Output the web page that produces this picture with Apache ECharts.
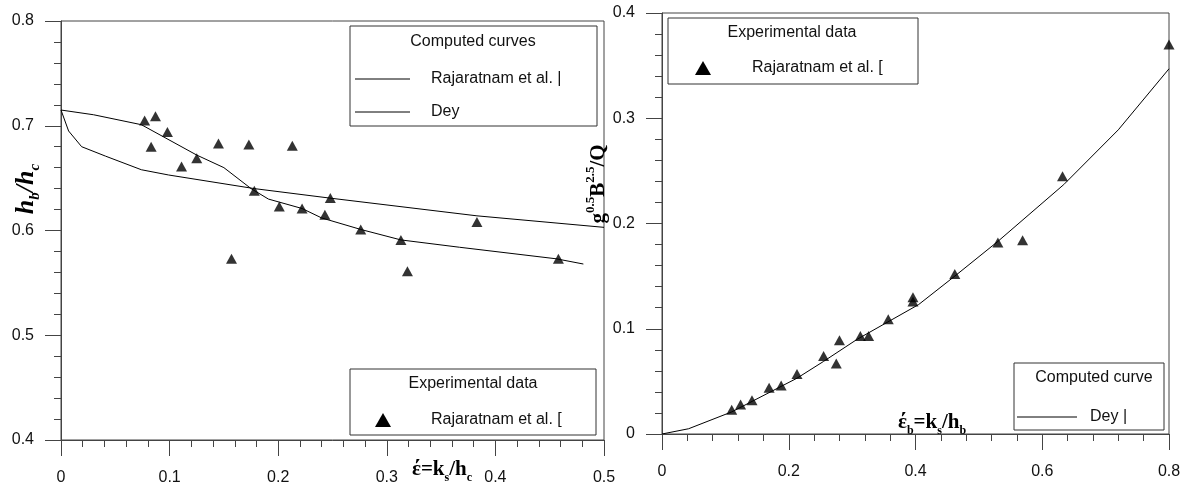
<!DOCTYPE html>
<html>
<head>
<meta charset="utf-8">
<script src="https://cdn.jsdelivr.net/npm/echarts@6/dist/echarts.min.js"></script>
<style>
  html, body { margin: 0; background: #fff; }
  #chart { width: 1189px; height: 486px; }
</style>
</head>
<body>
<div id="chart"></div>
<script>
// left plot: h_b/h_c against ks/hc
const leftExpX = [0.077, 0.087, 0.083, 0.098, 0.111, 0.125, 0.145, 0.157, 0.173, 0.178, 0.201, 0.213, 0.222, 0.243, 0.248, 0.276, 0.313, 0.319, 0.383, 0.458]
const leftExpY = [0.705, 0.709, 0.680, 0.694, 0.661, 0.669, 0.683, 0.573, 0.682, 0.638, 0.623, 0.681, 0.621, 0.615, 0.631, 0.601, 0.591, 0.561, 0.608, 0.573]
const rajX = [0, 0.030, 0.074, 0.125, 0.150, 0.175, 0.191, 0.222, 0.240, 0.276, 0.313, 0.367, 0.456, 0.481]
const rajY = [0.715, 0.7105, 0.701, 0.672, 0.660, 0.640, 0.630, 0.621, 0.612, 0.601, 0.591, 0.584, 0.573, 0.568]
const deyLeftX = [0, 0.007, 0.019, 0.041, 0.074, 0.099, 0.178, 0.247, 0.383, 0.5]
const deyLeftY = [0.715, 0.695, 0.680, 0.671, 0.658, 0.653, 0.640, 0.631, 0.614, 0.603]

// right plot: g^0.5 B^2.5 / Q against ks/hb
const rightExpX = [0.110, 0.124, 0.142, 0.169, 0.188, 0.213, 0.255, 0.275, 0.280, 0.313, 0.326, 0.357, 0.396, 0.396, 0.462, 0.530, 0.569, 0.632, 0.800]
const rightExpY = [0.023, 0.028, 0.032, 0.044, 0.046, 0.057, 0.074, 0.067, 0.089, 0.093, 0.093, 0.109, 0.126, 0.130, 0.152, 0.182, 0.184, 0.245, 0.370]
const deyRightX = [0, 0.042, 0.110, 0.213, 0.255, 0.308, 0.405, 0.462, 0.530, 0.634, 0.720, 0.800]
const deyRightY = [0, 0.005, 0.021, 0.053, 0.069, 0.090, 0.123, 0.150, 0.183, 0.237, 0.289, 0.347]

const axisColor = '#444'
const sans = 'Liberation Sans, Arial, sans-serif'
const serif = 'Liberation Serif, Times New Roman, serif'

function pairs(xs, ys) {
  return xs.map((x, i) => [x, ys[i]])
}

function valueAxis(gridIndex, min, max, interval, margin) {
  return {
    type: 'value',
    gridIndex: gridIndex,
    min: min,
    max: max,
    interval: interval,
    axisLine: { show: true, onZero: false, lineStyle: { color: axisColor, width: 1 } },
    axisTick: { show: true, length: 16, lineStyle: { color: axisColor } },
    minorTick: { show: true, splitNumber: 5, length: 7, lineStyle: { color: axisColor } },
    splitLine: { show: false },
    minorSplitLine: { show: false },
    axisLabel: { fontSize: 16, color: '#111', fontFamily: sans, margin: margin }
  }
}

function legendText(x, y, text, align) {
  return {
    type: 'text', x: x, y: y,
    style: { text: text, fontSize: 16, fontFamily: sans, fill: '#111', align: align || 'left', verticalAlign: 'middle' }
  }
}

function legendLine(x1, x2, y) {
  return { type: 'line', shape: { x1: x1, y1: y, x2: x2, y2: y }, style: { stroke: '#000', lineWidth: 1 } }
}

function legendTriangle(cx, cy) {
  return {
    type: 'polygon',
    shape: { points: [[cx, cy - 7], [cx + 8, cy + 7], [cx - 8, cy + 7]] },
    style: { fill: '#000' }
  }
}

function legendBox(x, y, w, h) {
  return { type: 'rect', shape: { x: x, y: y, width: w, height: h }, style: { fill: '#fff', stroke: '#333', lineWidth: 1 } }
}

const titleRich = {
  b: { fontSize: 21, fontWeight: 'bold', fontFamily: serif, fill: '#000' },
  bi: { fontSize: 26, fontWeight: 'bold', fontStyle: 'italic', fontFamily: serif, fill: '#000' },
  s: { fontSize: 12, fontWeight: 'bold', fontFamily: serif, fill: '#000', verticalAlign: 'bottom', lineHeight: 28 },
  si: { fontSize: 15, fontWeight: 'bold', fontStyle: 'italic', fontFamily: serif, fill: '#000', verticalAlign: 'bottom', lineHeight: 34 },
  p: { fontSize: 13, fontWeight: 'bold', fontFamily: serif, fill: '#000', verticalAlign: 'top', lineHeight: 30 }
}

const chart = echarts.init(document.getElementById('chart'), null, { renderer: 'canvas' })

chart.setOption({
  animation: false,
  backgroundColor: '#fff',
  grid: [
    { left: 61, top: 21, width: 543, height: 419, show: true, borderColor: axisColor, borderWidth: 1, backgroundColor: 'transparent' },
    { left: 662, top: 13, width: 507, height: 421, show: true, borderColor: axisColor, borderWidth: 1, backgroundColor: 'transparent' }
  ],
  xAxis: [
    valueAxis(0, 0, 0.5, 0.1, 30),
    valueAxis(1, 0, 0.8, 0.2, 30)
  ],
  yAxis: [
    valueAxis(0, 0.4, 0.8, 0.1, 27),
    valueAxis(1, 0, 0.4, 0.1, 27)
  ],
  series: [
    {
      type: 'line', xAxisIndex: 0, yAxisIndex: 0, data: pairs(rajX, rajY),
      showSymbol: false, lineStyle: { color: '#000', width: 1 }, z: 3
    },
    {
      type: 'line', xAxisIndex: 0, yAxisIndex: 0, data: pairs(deyLeftX, deyLeftY),
      showSymbol: false, lineStyle: { color: '#000', width: 1 }, z: 3
    },
    {
      type: 'scatter', xAxisIndex: 0, yAxisIndex: 0, data: pairs(leftExpX, leftExpY),
      symbol: 'triangle', symbolSize: [11, 10], itemStyle: { color: '#000' }, z: 4
    },
    {
      type: 'line', xAxisIndex: 1, yAxisIndex: 1, data: pairs(deyRightX, deyRightY),
      showSymbol: false, lineStyle: { color: '#000', width: 1 }, z: 3
    },
    {
      type: 'scatter', xAxisIndex: 1, yAxisIndex: 1, data: pairs(rightExpX, rightExpY),
      symbol: 'triangle', symbolSize: [11, 10], itemStyle: { color: '#000' }, z: 4
    }
  ],
  graphic: [
    // left legends
    legendBox(350, 26, 247, 100),
    legendText(473, 42, 'Computed curves', 'center'),
    legendLine(355, 410, 79),
    legendText(431, 79, 'Rajaratnam et al. |'),
    legendLine(355, 410, 112),
    legendText(431, 112, 'Dey'),

    legendBox(350, 369, 246, 66),
    legendText(473, 384, 'Experimental data', 'center'),
    legendTriangle(383, 420),
    legendText(431, 420, 'Rajaratnam et al. ['),

    // right legends
    legendBox(668, 18, 250, 66),
    legendText(792, 33, 'Experimental data', 'center'),
    legendTriangle(703, 68),
    legendText(752, 68, 'Rajaratnam et al. ['),

    legendBox(1014, 363, 150, 67),
    legendText(1094, 378, 'Computed curve', 'center'),
    legendLine(1017, 1077, 417),
    legendText(1090, 417, 'Dey |'),

    // axis titles
    {
      type: 'text', x: 26, y: 189, rotation: Math.PI / 2,
      style: { text: '{bi|h}{si|b}{bi|/h}{si|c}', rich: titleRich, align: 'center', verticalAlign: 'middle' }
    },
    {
      type: 'text', x: 442, y: 470,
      style: { text: '{b|\u03AD=k}{s|s}{b|/h}{s|c}', rich: titleRich, align: 'center', verticalAlign: 'middle' }
    },
    {
      type: 'text', x: 599, y: 184, rotation: Math.PI / 2,
      style: { text: '{b|g}{p|0.5}{b|B}{p|2.5}{b|/Q}', rich: titleRich, align: 'center', verticalAlign: 'middle' }
    },
    {
      type: 'text', x: 932, y: 423,
      style: { text: '{b|\u03AD}{s|b}{b|=k}{s|s}{b|/h}{s|b}', rich: titleRich, align: 'center', verticalAlign: 'middle' }
    }
  ]
})
</script>
</body>
</html>
